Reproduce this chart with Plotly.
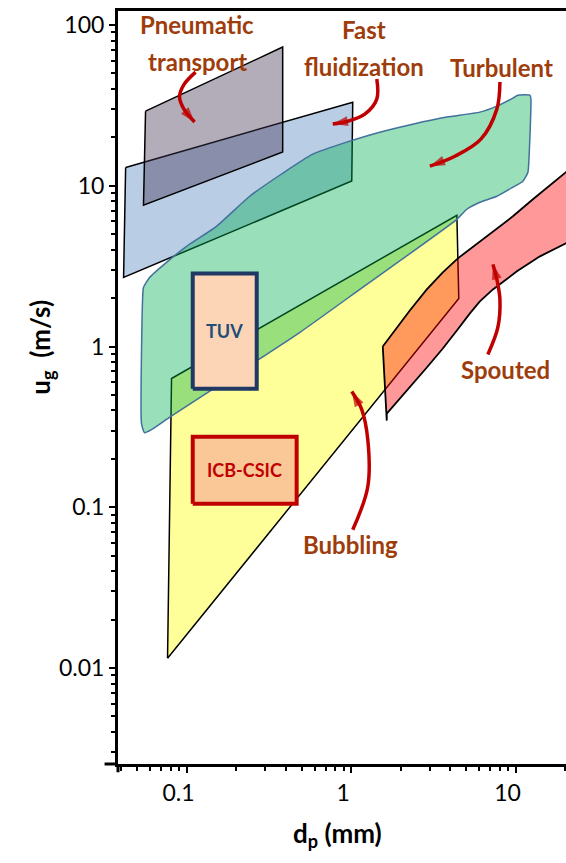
import math
import plotly.graph_objects as go

# Flow-regime map: particle diameter d_p (mm) vs superficial gas velocity u_g (m/s)

# Region outlines (d_p in mm, u_g in m/s)
pneumatic_dp = [0.0563, 0.384, 0.384, 0.0547]
pneumatic_ug = [29.1, 72.9, 16.2, 7.56]

fast_dp = [0.0426, 1.024, 1.01, 0.0414]
fast_ug = [13.0, 33.1, 10.7, 2.69]

bubbling_dp = [0.0766, 0.081, 4.40, 4.52]
bubbling_ug = [0.0115, 0.632, 6.55, 1.99]

turbulent_dp = [0.0555, 0.0532, 0.054, 0.0547, 0.0596, 0.0755, 0.100, 0.152, 0.242,
                0.384, 0.585, 0.941, 1.495, 2.374, 3.824, 6.073, 7.705, 9.643, 10.34,
                12.23, 12.41, 12.07, 11.9, 11.09, 9.64, 7.70, 6.07, 5.06, 4.40,
                1.13, 0.487, 0.0799, 0.0612]
turbulent_ug = [0.291, 0.331, 1.963, 2.33, 2.69, 3.34, 4.20, 5.59, 8.60,
                11.96, 15.72, 18.67, 21.54, 24.16, 26.73, 28.71, 31.28, 35.1, 36.6,
                36.6, 34.6, 14.63, 12.14, 10.67, 9.79, 8.60, 7.89, 7.14, 6.18,
                2.265, 1.222, 0.366, 0.304]

spouted_dp = [1.559, 1.845, 2.277, 2.888, 3.614, 4.461, 5.662, 7.287, 9.643, 12.76, 16.19, 20.27, 28.37,
              28.37, 20.27, 14.08, 10.2, 7.287, 6.07, 5.28, 4.40, 3.614, 2.888, 2.277, 1.897, 1.649, 1.649]
spouted_ug = [1.0, 1.258, 1.676, 2.265, 2.891, 3.534, 4.258, 5.132, 6.457, 8.240, 10.07, 12.14, 15.72,
              5.132, 4.383, 3.637, 2.934, 2.265, 1.907, 1.606, 1.258, 0.9717, 0.740, 0.563, 0.4544, 0.3824, 0.346]

# Operating windows of the two facilities
tuv_dp = [0.109, 0.267]
tuv_ug = [0.547, 2.85]
icb_dp = [0.109, 0.467]
icb_ug = [0.105, 0.275]

# Axis ticks
x_major = [0.1, 1, 10]
x_labels = ["0.1", "1", "10"]
y_major = [0.01, 0.1, 1, 10, 100]
y_labels = ["0.01", "0.1", "1", "10", "100"]
x_minor = [k * 10 ** e for e in (-2, -1, 0, 1) for k in range(2, 10)]
y_minor = [k * 10 ** e for e in (-3, -2, -1, 0, 1, 2) for k in range(2, 10)]

# Callout labels: (text, d_p, u_g)
callout_text = [
    ("Pneumatic", 0.115, 101.0), ("transport", 0.1166, 59.7),
    ("Fast", 1.195, 94.4), ("fluidization", 1.195, 55.5),
    ("Turbulent", 8.26, 54.7),
    ("Spouted", 8.74, 0.719),
    ("Bubbling", 0.996, 0.0584),
]
# Curved callout arrows (d_p list, u_g list), tail to head
callout_arrows = [
    ([0.1134, 0.0959, 0.0906, 0.0972, 0.1119], [50.9, 42.3, 35.6, 29.5, 24.9]),
    ([1.434, 1.434, 1.212, 0.9548, 0.7739], [46.1, 34.6, 27.9, 25.2, 24.2]),
    ([8.04, 7.70, 6.16, 4.28, 3.013], [44.2, 29.96, 19.49, 15.27, 13.23]),
    ([6.79, 7.81, 8.04, 7.70, 7.29], [0.892, 1.314, 1.963, 2.615, 3.243]),
    ([1.024, 1.264, 1.264, 1.162, 1.01], [0.0724, 0.1342, 0.2634, 0.405, 0.5244]),
]

LABEL_COLOR = "#9E3D0B"
ARROW_COLOR = "#C00000"
FONT = "Lato"

fig = go.Figure()


def region(dp, ug, fill, line_color, width=1.5, shape="linear"):
    fig.add_trace(go.Scatter(
        x=dp + dp[:1], y=ug + ug[:1], mode="lines", fill="toself",
        fillcolor=fill, line=dict(color=line_color, width=width, shape=shape, smoothing=0.5),
        hoverinfo="skip"))


region(fast_dp, fast_ug, "rgba(79,129,189,0.4)", "black")
region(pneumatic_dp, pneumatic_ug, "rgba(64,49,82,0.4)", "black")
region(bubbling_dp, bubbling_ug, "rgba(255,255,0,0.4)", "black")
region(turbulent_dp, turbulent_ug, "rgba(0,176,80,0.4)", "#41719C", shape="spline")
region(spouted_dp, spouted_ug, "rgba(255,0,0,0.4)", "black", 1.8)

# Curved arrows with arrowheads at the end
for xs, ys in callout_arrows:
    fig.add_trace(go.Scatter(
        x=xs, y=ys, mode="lines+markers",
        line=dict(color=ARROW_COLOR, width=3.5, shape="spline", smoothing=1.0),
        marker=dict(symbol="arrow", angleref="previous",
                    size=[0] * (len(xs) - 1) + [16], color=ARROW_COLOR,
                    line=dict(width=0)),
        hoverinfo="skip"))


def box(dp, ug, fill, edge):
    fig.add_trace(go.Scatter(
        x=[dp[0], dp[1], dp[1], dp[0], dp[0]],
        y=[ug[0], ug[0], ug[1], ug[1], ug[0]],
        mode="lines", fill="toself", fillcolor=fill,
        line=dict(color=edge, width=4), hoverinfo="skip"))


box(tuv_dp, tuv_ug, "#FBD5B5", "#1F3864")
box(icb_dp, icb_ug, "#FAC796", "#C00000")


def log_mid(pair):
    return 0.5 * (math.log10(pair[0]) + math.log10(pair[1]))


annotations = []
for text, xv, yv in callout_text:
    annotations.append(dict(
        x=math.log10(xv), y=math.log10(yv), xref="x", yref="y",
        text=f"<b>{text}</b>", showarrow=False,
        font=dict(family=FONT, size=24, color=LABEL_COLOR)))

annotations.append(dict(
    x=log_mid(tuv_dp), y=log_mid(tuv_ug), xref="x", yref="y",
    text="<b>TUV</b>", showarrow=False,
    font=dict(family=FONT, size=18, color="#1F4E79")))
annotations.append(dict(
    x=log_mid(icb_dp), y=log_mid(icb_ug), xref="x", yref="y",
    text="<b>ICB-CSIC</b>", showarrow=False,
    font=dict(family=FONT, size=18, color="#C00000")))

# Axis titles
annotations.append(dict(
    x=-0.17, y=0.554, xref="paper", yref="paper", xanchor="center", yanchor="middle",
    textangle=-90, text="<b>u<sub>g</sub>  (m/s)</b>", showarrow=False,
    font=dict(family=FONT, size=26, color="black")))
annotations.append(dict(
    x=0.489, y=-0.094, xref="paper", yref="paper", xanchor="center", yanchor="middle",
    text="<b>d<sub>p</sub> (mm)</b>", showarrow=False,
    font=dict(family=FONT, size=26, color="black")))

# Short overhangs where the two axis lines cross
axis_stubs = [
    dict(type="line", xref="paper", yref="paper", x0=0, x1=0, y0=0, y1=-0.011,
         line=dict(color="black", width=3)),
    dict(type="line", xref="paper", yref="paper", x0=-0.03, x1=0, y0=0, y1=0,
         line=dict(color="black", width=3)),
]

fig.update_layout(
    width=566, height=863,
    margin=dict(l=118, r=0, t=11, b=99),
    paper_bgcolor="white", plot_bgcolor="white",
    showlegend=False,
    font=dict(family=FONT, color="black"),
    annotations=annotations,
    shapes=axis_stubs,
    xaxis=dict(
        type="log", range=[-1.417, 1.307],
        showline=True, linecolor="black", linewidth=3, mirror=True,
        showgrid=False, zeroline=False,
        ticks="outside", ticklen=6, tickwidth=2, tickcolor="black",
        tickvals=x_major, ticktext=x_labels,
        tickfont=dict(family=FONT, size=23, color="black"),
        ticklabelshift=-8,
        minor=dict(ticks="outside", ticklen=4, tickwidth=2, tickcolor="black",
                   tickvals=x_minor, showgrid=False),
    ),
    yaxis=dict(
        type="log", range=[-2.597, 2.087],
        showline=True, linecolor="black", linewidth=3,
        showgrid=False, zeroline=False,
        ticks="outside", ticklen=6, tickwidth=2, tickcolor="black",
        tickvals=y_major, ticktext=y_labels,
        tickfont=dict(family=FONT, size=23, color="black"),
        minor=dict(ticks="outside", ticklen=4, tickwidth=2, tickcolor="black",
                   tickvals=y_minor, showgrid=False),
    ),
)

fig.write_html("out.html")
